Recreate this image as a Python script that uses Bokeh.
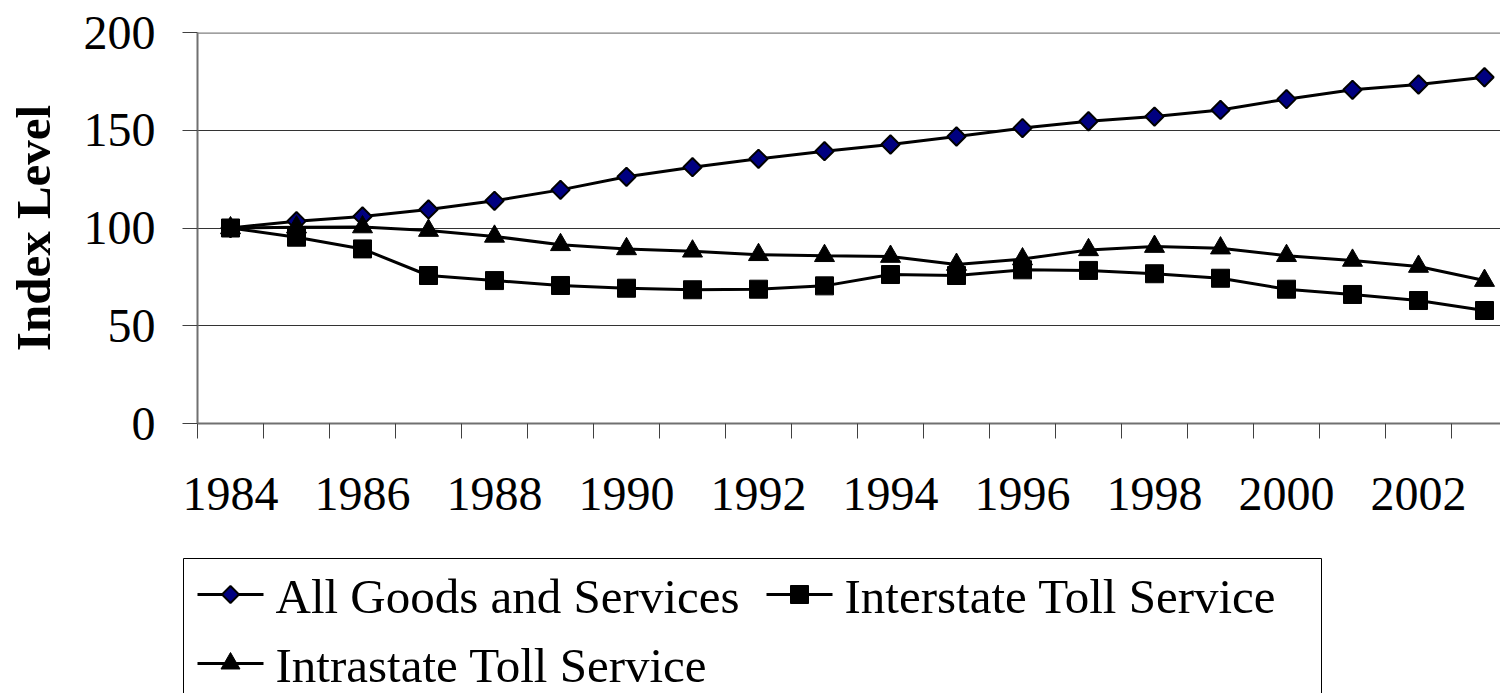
import math
from bokeh.plotting import figure
from bokeh.layouts import column
from bokeh.models import Range1d, FixedTicker, Span, ColumnDataSource
from bokeh.core.properties import value
from bokeh.embed import file_html
from bokeh.resources import INLINE

# ---- data ----
years = list(range(1984, 2004))
all_goods = [100, 103.5, 105.9, 109.5, 113.9, 119.5, 126.2, 131.1, 135.4, 139.3,
             142.7, 146.8, 151.1, 154.6, 157.0, 160.4, 165.9, 170.7, 173.4, 177.1]
interstate = [100, 95.3, 89.3, 75.7, 73.1, 70.6, 69.2, 68.4, 68.7, 70.4,
              76.2, 75.7, 78.6, 78.3, 76.6, 74.3, 68.7, 66.0, 62.9, 57.8]
intrastate = [100, 100.4, 100.5, 98.7, 95.7, 91.4, 89.3, 88.1, 86.3, 85.8,
              85.4, 81.3, 84.1, 88.8, 90.5, 89.7, 85.8, 83.4, 80.3, 73.1]
series_names = ["All Goods and Services", "Interstate Toll Service",
                "Intrastate Toll Service"]
label_years = list(range(1984, 2003, 2))
y_ticks = [0, 50, 100, 150, 200]

FONT = "Liberation Serif"
W = 1500
H_TOP, H_LEG = 557, 136
BL, BT = 197, 32
BB = H_TOP - 423
frame_w = W - BL
px_per_year = 66.0

p = figure(width=W, height=H_TOP, output_backend="svg", toolbar_location=None,
           x_range=Range1d(years[0] - 0.5, years[0] - 0.5 + frame_w / px_per_year),
           y_range=Range1d(0, 200),
           min_border_left=BL, min_border_right=0, min_border_top=BT,
           min_border_bottom=BB)
p.frame_align = False
p.outline_line_color = None
p.background_fill_color = "white"
p.border_fill_color = "white"

# grid
p.xgrid.visible = False
p.ygrid.ticker = FixedTicker(ticks=[50, 100, 150])
p.ygrid.grid_line_color = "#333333"
p.ygrid.grid_line_width = 1
p.add_layout(Span(location=200, dimension="width", line_color="#808080",
                  line_width=2.5))

# x axis
xa = p.xaxis[0]
xa.ticker = FixedTicker(ticks=label_years,
                        minor_ticks=[y - 0.5 for y in years] + [years[-1] + 0.5])
xa.major_tick_out = 0
xa.major_tick_in = 0
xa.minor_tick_out = 15
xa.minor_tick_in = 0
xa.minor_tick_line_color = "#404040"
xa.axis_line_color = "#707070"
xa.axis_line_width = 2
xa.major_label_text_font = FONT
xa.major_label_text_font_size = "48px"
xa.major_label_text_color = "black"
xa.major_label_standoff = 39

# y axis
ya = p.yaxis[0]
ya.ticker = FixedTicker(ticks=y_ticks)
ya.major_tick_out = 15
ya.major_tick_in = 0
ya.minor_tick_out = 0
ya.minor_tick_in = 0
ya.major_tick_line_color = "#404040"
ya.axis_line_color = "#707070"
ya.axis_line_width = 2
ya.major_label_text_font = FONT
ya.major_label_text_font_size = "48px"
ya.major_label_text_color = "black"
ya.major_label_standoff = 27
ya.axis_label = "Index Level"
ya.axis_label_text_font = FONT
ya.axis_label_text_font_size = "49px"
ya.axis_label_text_font_style = "bold"
ya.axis_label_text_color = "black"
ya.axis_label_standoff = 20

src = ColumnDataSource(dict(x=years, a=all_goods, b=interstate, c=intrastate))

styles = [
    dict(marker="square", angle=math.pi / 4, size=13, fill_color="#000080",
         line_color="black", line_width=2),
    dict(marker="square", angle=0, size=18, fill_color="black",
         line_color="black", line_width=1),
    dict(marker="triangle", angle=0, size=20, fill_color="black",
         line_color="black", line_width=1),
]
for col, st in zip(["a", "b", "c"], styles):
    p.line("x", col, source=src, line_color="black", line_width=3)
    p.scatter("x", col, source=src, **st)

# ---- legend panel: second figure directly below, in pixel units ----
p2 = figure(width=W, height=H_LEG, output_backend="svg", toolbar_location=None,
            x_range=Range1d(0, W), y_range=Range1d(H_LEG, 0),
            x_axis_type=None, y_axis_type=None,
            min_border_left=0, min_border_right=0, min_border_top=0,
            min_border_bottom=0)
p2.frame_align = False
p2.outline_line_color = None
p2.grid.visible = False
p2.background_fill_color = "white"
p2.border_fill_color = "white"

# legend box (its lower edge runs off the page, as in the original)
p2.quad(left=[183], right=[1321], top=[1], bottom=[H_LEG + 20],
        fill_color="white", line_color="black", line_width=1)

# legend entries: (swatch left x, row center y)
slots = [(197, 37), (766, 37), (197, 106)]
sw_w = 66
leg_marker_styles = [
    dict(marker="square", angle=math.pi / 4, size=12, fill_color="#000080",
         line_color="black", line_width=2),
    dict(marker="square", angle=0, size=18, fill_color="black",
         line_color="black", line_width=1),
    dict(marker="triangle", angle=0, size=19, fill_color="black",
         line_color="black", line_width=1),
]
for name, (sx, sy), st in zip(series_names, slots, leg_marker_styles):
    p2.line([sx, sx + sw_w], [sy, sy], line_color="black", line_width=3)
    p2.scatter([sx + sw_w / 2], [sy], **st)
    p2.text([sx + sw_w + 12], [sy + 2], text=[name],
            text_font=value(FONT), text_font_size="49px",
            text_color="black", text_baseline="alphabetic", text_align="left")

layout = column(p, p2, spacing=0)
open("out.html", "w").write(file_html(layout, INLINE))
